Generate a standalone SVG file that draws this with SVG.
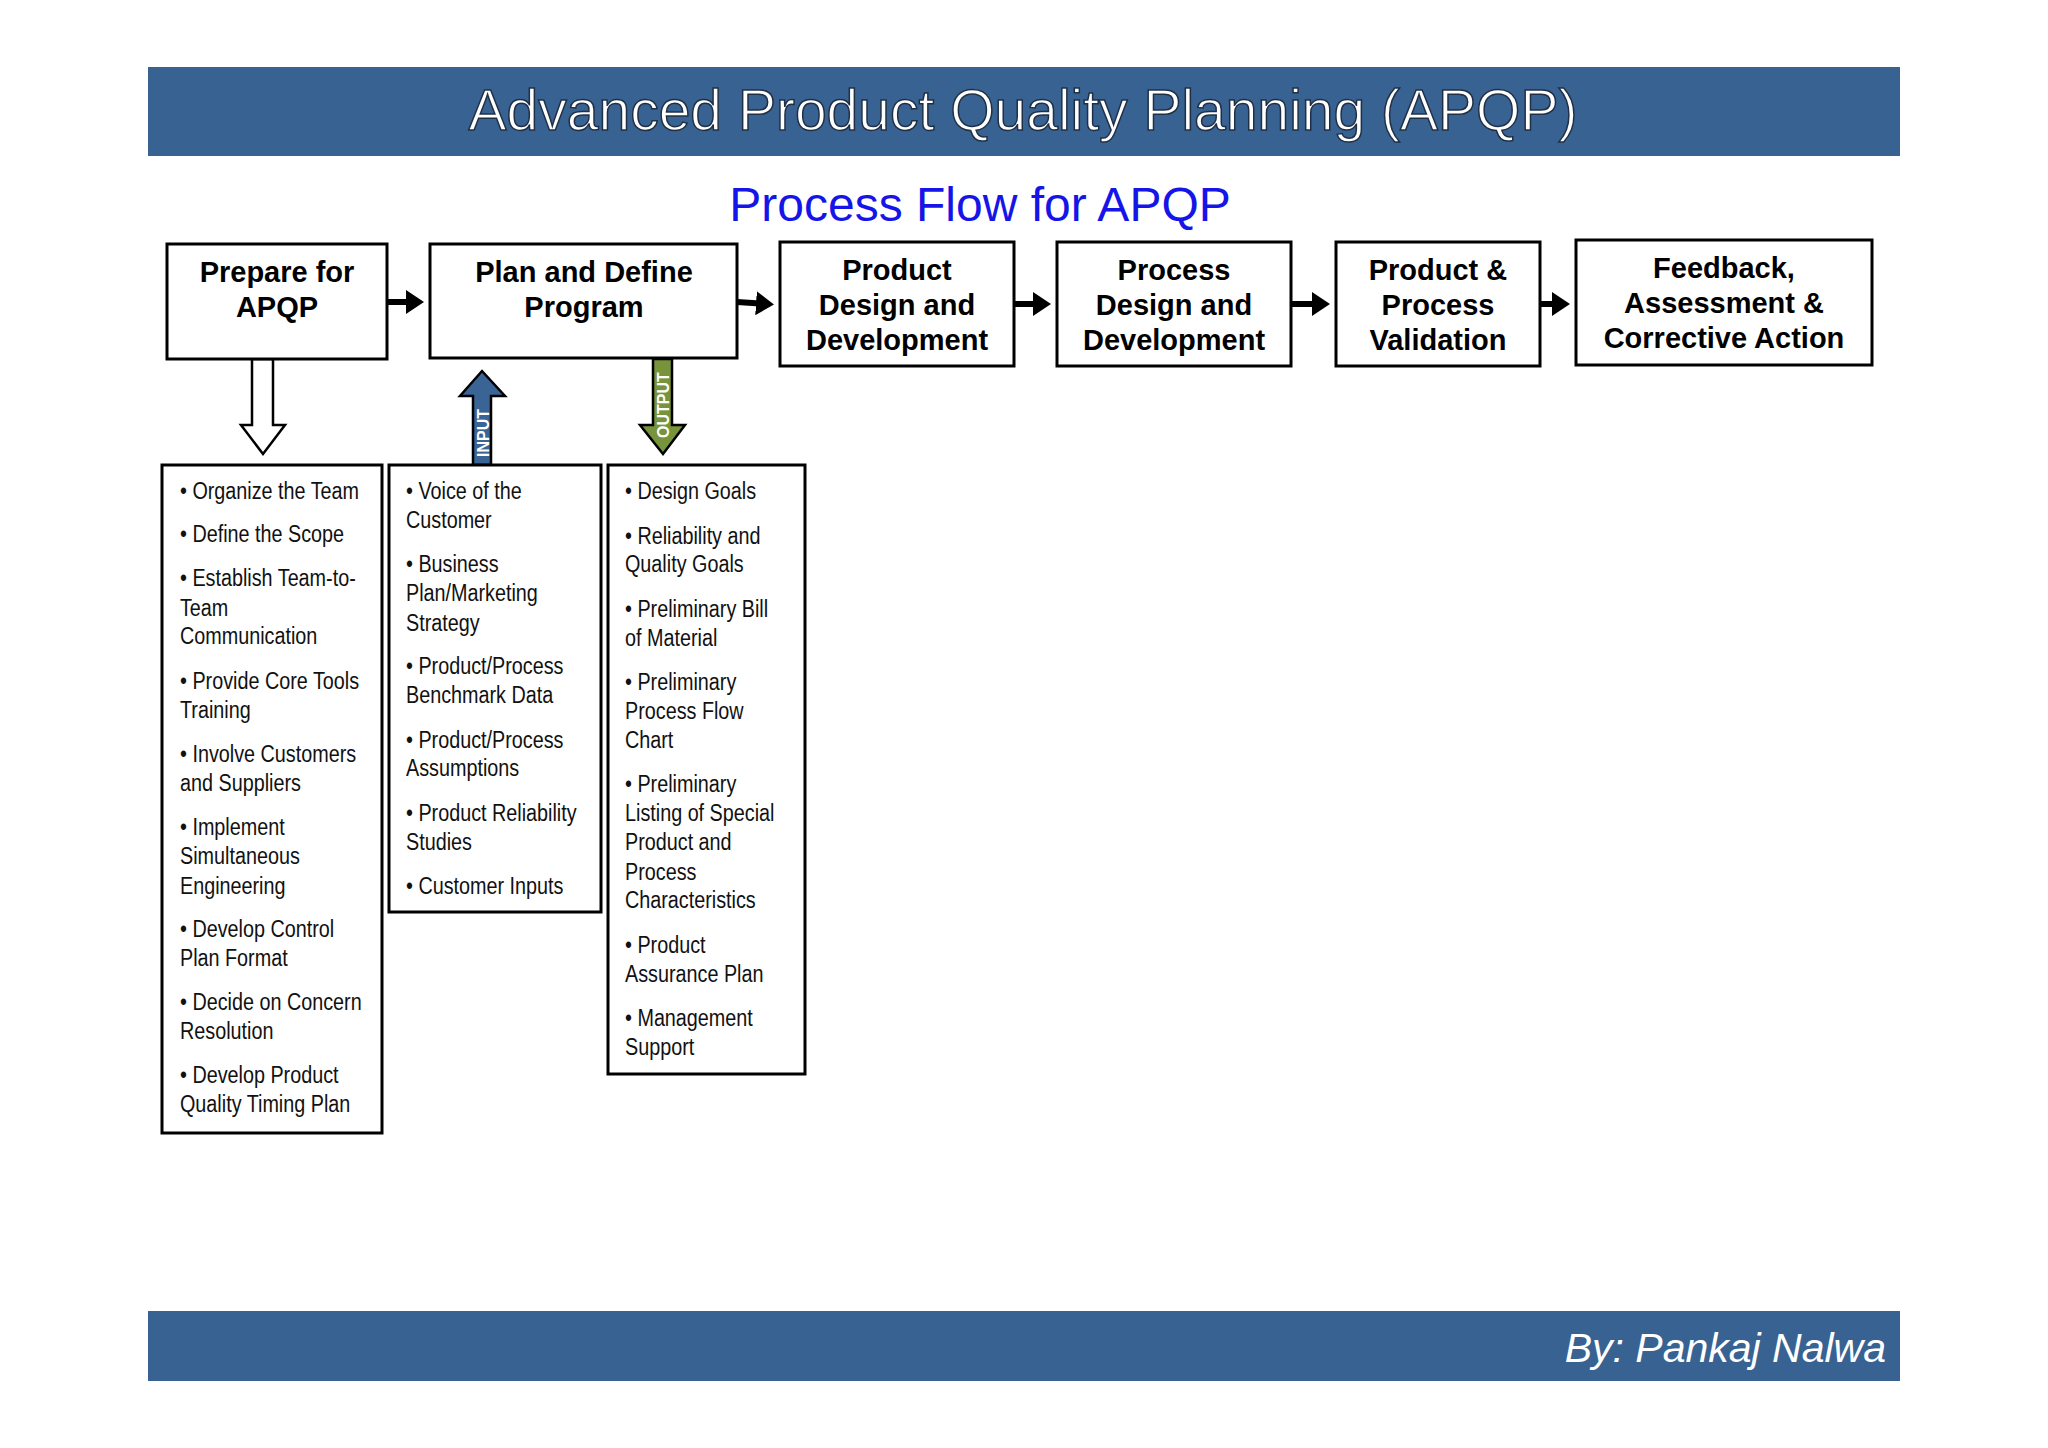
<svg xmlns="http://www.w3.org/2000/svg" width="2048" height="1448" viewBox="0 0 2048 1448">
<style>
.bn{fill:#386291}
.box{fill:#fff;stroke:#000;stroke-width:3}
.bt{font-family:"Liberation Sans",Arial,sans-serif;font-weight:bold;font-size:29px;text-anchor:middle;fill:#000}
.lt{font-family:"Liberation Sans",Arial,sans-serif;font-size:23px;fill:#111}
.con{stroke:#000;stroke-width:6;fill:none}
</style>
<defs>
<marker id="ah" markerWidth="4" markerHeight="4" refX="2" refY="2" orient="auto" markerUnits="strokeWidth"><path d="M0,0L3,2L0,4z" fill="#000"/></marker>
</defs>
<rect width="2048" height="1448" fill="#fff"/>
<rect class="bn" x="148" y="67" width="1752" height="89"/>
<text x="1023" y="130" font-family="Liberation Sans,Arial,sans-serif" font-size="57" text-anchor="middle" fill="#fff" stroke="#1f2f45" stroke-width="1.5">Advanced Product Quality Planning (APQP)</text>
<text x="980" y="221" font-family="Liberation Sans,Arial,sans-serif" font-size="48" text-anchor="middle" fill="#1515e8">Process Flow for APQP</text>

<g id="connectors">
<path class="con" d="M387 302H418" marker-end="url(#ah)"/>
<path class="con" d="M737 302L768 304" marker-end="url(#ah)"/>
<path class="con" d="M1014 304H1045" marker-end="url(#ah)"/>
<path class="con" d="M1291 304H1324" marker-end="url(#ah)"/>
<path class="con" d="M1540 304H1564" marker-end="url(#ah)"/>
<path d="M252 359H273V425H285L263 454L241 425H252Z" fill="#fff" stroke="#000" stroke-width="2.5"/>
<path d="M473 465V396H460L482 371L505 396H491V465Z" fill="#3a6396" stroke="#000" stroke-width="2.5"/>
<text transform="translate(489 457) rotate(-90)" font-family="Liberation Sans,Arial,sans-serif" font-weight="bold" font-size="16" fill="#fff">INPUT</text>
<path d="M653 359H672V425H685L663 454L640 425H653Z" fill="#77933c" stroke="#000" stroke-width="2.5"/>
<text transform="translate(669 438) rotate(-90)" font-family="Liberation Sans,Arial,sans-serif" font-weight="bold" font-size="16" fill="#fff">OUTPUT</text>
</g>

<g id="n1"><rect class="box" x="167" y="244" width="220" height="115"/><text class="bt"><tspan x="277" y="282">Prepare for</tspan><tspan x="277" y="317">APQP</tspan></text></g>
<g id="n2"><rect class="box" x="430" y="244" width="307" height="114"/><text class="bt"><tspan x="584" y="282">Plan and Define</tspan><tspan x="584" y="317">Program</tspan></text></g>
<g id="n3"><rect class="box" x="780" y="242" width="234" height="124"/><text class="bt"><tspan x="897" y="280">Product</tspan><tspan x="897" y="315">Design and</tspan><tspan x="897" y="350">Development</tspan></text></g>
<g id="n4"><rect class="box" x="1057" y="242" width="234" height="124"/><text class="bt"><tspan x="1174" y="280">Process</tspan><tspan x="1174" y="315">Design and</tspan><tspan x="1174" y="350">Development</tspan></text></g>
<g id="n5"><rect class="box" x="1336" y="242" width="204" height="124"/><text class="bt"><tspan x="1438" y="280">Product &amp;</tspan><tspan x="1438" y="315">Process</tspan><tspan x="1438" y="350">Validation</tspan></text></g>
<g id="n6"><rect class="box" x="1576" y="240" width="296" height="125"/><text class="bt"><tspan x="1724" y="278">Feedback,</tspan><tspan x="1724" y="313">Assessment &amp;</tspan><tspan x="1724" y="348">Corrective Action</tspan></text></g>

<g id="l1"><rect class="box" x="162" y="465" width="220" height="668"/>
<text class="lt" transform="translate(180 0) scale(0.86 1) translate(-180 0)">
<tspan x="180" y="499">• Organize the Team</tspan>
<tspan x="180" y="542">• Define the Scope</tspan>
<tspan x="180" y="586">• Establish Team-to-</tspan>
<tspan x="180" y="616">Team</tspan>
<tspan x="180" y="644">Communication</tspan>
<tspan x="180" y="689">• Provide Core Tools</tspan>
<tspan x="180" y="718">Training</tspan>
<tspan x="180" y="762">• Involve Customers</tspan>
<tspan x="180" y="791">and Suppliers</tspan>
<tspan x="180" y="835">• Implement</tspan>
<tspan x="180" y="864">Simultaneous</tspan>
<tspan x="180" y="894">Engineering</tspan>
<tspan x="180" y="937">• Develop Control</tspan>
<tspan x="180" y="966">Plan Format</tspan>
<tspan x="180" y="1010">• Decide on Concern</tspan>
<tspan x="180" y="1039">Resolution</tspan>
<tspan x="180" y="1083">• Develop Product</tspan>
<tspan x="180" y="1112">Quality Timing Plan</tspan>
</text></g>

<g id="l2"><rect class="box" x="389" y="465" width="212" height="447"/>
<text class="lt" transform="translate(406 0) scale(0.86 1) translate(-406 0)">
<tspan x="406" y="499">• Voice of the</tspan>
<tspan x="406" y="528">Customer</tspan>
<tspan x="406" y="572">• Business</tspan>
<tspan x="406" y="601">Plan/Marketing</tspan>
<tspan x="406" y="631">Strategy</tspan>
<tspan x="406" y="674">• Product/Process</tspan>
<tspan x="406" y="703">Benchmark Data</tspan>
<tspan x="406" y="748">• Product/Process</tspan>
<tspan x="406" y="776">Assumptions</tspan>
<tspan x="406" y="821">• Product Reliability</tspan>
<tspan x="406" y="850">Studies</tspan>
<tspan x="406" y="894">• Customer Inputs</tspan>
</text></g>

<g id="l3"><rect class="box" x="608" y="465" width="197" height="609"/>
<text class="lt" transform="translate(625 0) scale(0.86 1) translate(-625 0)">
<tspan x="625" y="499">• Design Goals</tspan>
<tspan x="625" y="544">• Reliability and</tspan>
<tspan x="625" y="572">Quality Goals</tspan>
<tspan x="625" y="617">• Preliminary Bill</tspan>
<tspan x="625" y="646">of Material</tspan>
<tspan x="625" y="690">• Preliminary</tspan>
<tspan x="625" y="719">Process Flow</tspan>
<tspan x="625" y="748">Chart</tspan>
<tspan x="625" y="792">• Preliminary</tspan>
<tspan x="625" y="821">Listing of Special</tspan>
<tspan x="625" y="850">Product and</tspan>
<tspan x="625" y="880">Process</tspan>
<tspan x="625" y="908">Characteristics</tspan>
<tspan x="625" y="953">• Product</tspan>
<tspan x="625" y="982">Assurance Plan</tspan>
<tspan x="625" y="1026">• Management</tspan>
<tspan x="625" y="1055">Support</tspan>
</text></g>

<rect class="bn" x="148" y="1311" width="1752" height="70"/>
<text x="1886" y="1362" font-family="Liberation Sans,Arial,sans-serif" font-style="italic" font-size="41" text-anchor="end" fill="#fff">By: Pankaj Nalwa</text>
</svg>
